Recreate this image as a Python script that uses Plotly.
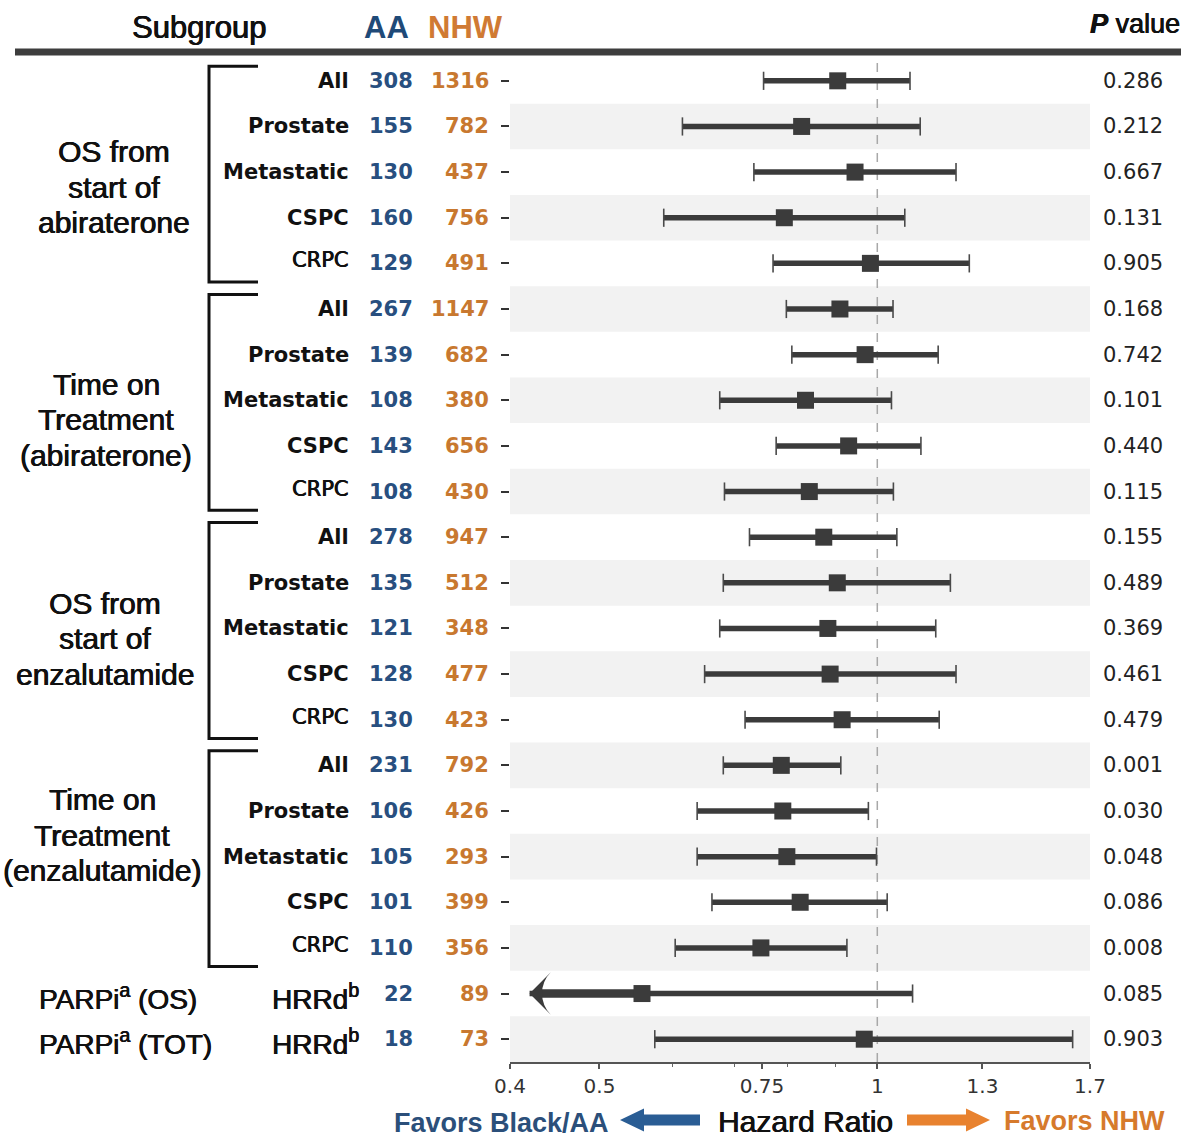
import plotly.graph_objects as go

# ---------------- data ----------------
group_labels = [["OS from", "start of", "abiraterone"],
                ["Time on", "Treatment", "(abiraterone)"],
                ["OS from", "start of", "enzalutamide"],
                ["Time on", "Treatment", "(enzalutamide)"]]
subgroups = ["All", "Prostate", "Metastatic", "CSPC", "CRPC"]
row_labels = subgroups * 4 + ["HRRd<sup>b</sup>", "HRRd<sup>b</sup>"]
parp_labels = ["PARPi<sup>a</sup> (OS)", "PARPi<sup>a</sup> (TOT)"]

n_aa = [308, 155, 130, 160, 129, 267, 139, 108, 143, 108, 278, 135, 121, 128, 130,
        231, 106, 105, 101, 110, 22, 18]
n_nhw = [1316, 782, 437, 756, 491, 1147, 682, 380, 656, 430, 947, 512, 348, 477, 423,
         792, 426, 293, 399, 356, 89, 73]
hr = [0.906, 0.828, 0.946, 0.793, 0.983, 0.911, 0.970, 0.836, 0.931, 0.844, 0.875,
      0.905, 0.884, 0.889, 0.916, 0.787, 0.790, 0.798, 0.825, 0.748, 0.556, 0.968]
ci_low = [0.753, 0.615, 0.735, 0.587, 0.771, 0.797, 0.808, 0.675, 0.777, 0.683, 0.727,
          0.681, 0.675, 0.650, 0.719, 0.681, 0.638, 0.638, 0.662, 0.604, 0.28, 0.574]
ci_high = [1.085, 1.113, 1.217, 1.071, 1.258, 1.040, 1.164, 1.036, 1.115, 1.041, 1.050,
           1.200, 1.157, 1.217, 1.167, 0.913, 0.978, 0.998, 1.025, 0.927, 1.092, 1.628]
p_values = ["0.286", "0.212", "0.667", "0.131", "0.905", "0.168", "0.742", "0.101",
            "0.440", "0.115", "0.155", "0.489", "0.369", "0.461", "0.479", "0.001",
            "0.030", "0.048", "0.086", "0.008", "0.085", "0.903"]

x_ticks = [0.4, 0.5, 0.75, 1, 1.3, 1.7]
x_tick_labels = ["0.4", "0.5", "0.75", "1", "1.3", "1.7"]
x_minor_ticks = [0.6, 0.7, 0.8, 0.9]
x_min, x_max = 0.4, 1.7
arrow_x = 0.42   # where an off-scale lower bound is drawn as an arrow

# ---------------- geometry helpers ----------------
W, H = 1200, 1148
L, R, T, B = 510, 110, 58, 86
PW, PH = W - L - R, H - T - B
ROW_PX = PH / 22.0


def fx(px):
    return (px - L) / PW


def fy(py):
    return (H - B - py) / PH


n = len(hr)
rows = list(range(n))

BLUE = "#284f7f"
ORANGE = "#c8782f"
DARK = "#3b3b3b"
TXT_FONT = "DejaVu Sans"
SANS = "Liberation Sans, Arial, sans-serif"


def heavy(color):
    return f"0.45px 0 0 {color}, -0.35px 0 0 {color}"


# ---------------- traces ----------------
line_x, line_y = [], []
cap_x, cap_y = [], []
arr_x, arr_y = [], []
shaft_x, shaft_y = [], []
for i in rows:
    lo_d = max(ci_low[i], arrow_x)
    line_x += [lo_d, ci_high[i], None]
    line_y += [i, i, None]
    if ci_low[i] >= x_min:
        cap_x.append(ci_low[i]); cap_y.append(i)
    else:
        arr_x.append(arrow_x); arr_y.append(i)
        shaft_x += [arrow_x * 1.02, hr[i], None]
        shaft_y += [i, i, None]
    cap_x.append(ci_high[i]); cap_y.append(i)

fig = go.Figure()
fig.add_trace(go.Scatter(x=line_x, y=line_y, mode="lines",
                         line=dict(color=DARK, width=5.5), hoverinfo="skip",
                         showlegend=False))
fig.add_trace(go.Scatter(x=shaft_x, y=shaft_y, mode="lines",
                         line=dict(color=DARK, width=8.5), hoverinfo="skip",
                         showlegend=False))
fig.add_trace(go.Scatter(x=cap_x, y=cap_y, mode="markers",
                         marker=dict(symbol="line-ns", size=13,
                                     line=dict(width=1.6, color="#4a4a4a")),
                         hoverinfo="skip", showlegend=False))
fig.add_trace(go.Scatter(x=arr_x, y=arr_y, mode="markers",
                         marker=dict(symbol="arrow-wide", angle=-90, size=30,
                                     color=DARK, line=dict(width=0)),
                         hoverinfo="skip", showlegend=False))
fig.add_trace(go.Scatter(x=hr, y=rows, mode="markers",
                         marker=dict(symbol="square", size=17, color=DARK,
                                     line=dict(width=0)),
                         showlegend=False))

# ---------------- shapes ----------------
shapes = []
for i in rows:
    if i % 2 == 1:
        shapes.append(dict(type="rect", xref="paper", yref="y", x0=0, x1=1,
                           y0=i - 0.5, y1=i + 0.5, fillcolor="#f2f2f2",
                           line=dict(width=0), layer="below"))
shapes.append(dict(type="line", xref="x", yref="paper", x0=1, x1=1, y0=0, y1=1,
                   line=dict(color="#a8a8a8", width=1.5, dash="dash"), layer="below"))
# header rule
shapes.append(dict(type="line", xref="paper", yref="paper", x0=fx(15), x1=fx(1181),
                   y0=fy(52), y1=fy(52), line=dict(color="#3d3d3d", width=7)))
# group brackets
for g in range(4):
    s, e = 5 * g, 5 * g + 4
    top, bot = s - 0.32, e + 0.41
    xl, xr = fx(209), fx(258)
    shapes.append(dict(type="path", xref="paper", yref="y",
                       path=f"M {xr},{top} L {xl},{top} L {xl},{bot} L {xr},{bot}",
                       line=dict(color="#111111", width=3)))


def arrow_path(tip, base, tail, yc, head_h=11.5, shaft_h=5.5):
    pts = [(tip, yc), (base, yc - head_h), (base, yc - shaft_h), (tail, yc - shaft_h),
           (tail, yc + shaft_h), (base, yc + shaft_h), (base, yc + head_h)]
    return "M " + " L ".join(f"{fx(a)},{fy(b)}" for a, b in pts) + " Z"


shapes.append(dict(type="path", xref="paper", yref="paper",
                   path=arrow_path(620, 644, 700, 1120), fillcolor="#2a5d94",
                   line=dict(width=0)))
shapes.append(dict(type="path", xref="paper", yref="paper",
                   path=arrow_path(990, 966, 907, 1120), fillcolor="#e8822f",
                   line=dict(width=0)))

# ---------------- annotations ----------------
ann = []


def add(text, x, y, xanchor="center", yref="paper", size=21, color="#111111",
        family=TXT_FONT, yshift=0, shadow=None):
    font = dict(family=family, size=size, color=color)
    if shadow:
        font["shadow"] = shadow
    ann.append(dict(text=text, x=x, y=y, xref="paper", yref=yref, xanchor=xanchor,
                    yanchor="middle", showarrow=False, yshift=yshift, align="center",
                    font=font))


for i in rows:
    if i < 20:
        lab = row_labels[i]
        if lab == "CRPC":
            add(lab, fx(351), i, "right", "y", 21, "#111111", yshift=3,
                shadow=heavy("#111111"))
        else:
            add(f"<b>{lab}</b>", fx(351), i, "right", "y", 21, "#111111")
    else:
        add(row_labels[i], fx(361), i, "right", "y", 28, "#111111", SANS, yshift=-3,
            shadow=heavy("#111111"))
        add(parp_labels[i - 20], fx(37), i, "left", "y", 28, "#111111", SANS,
            yshift=-3, shadow=heavy("#111111"))
    add(f"<b>{n_aa[i]}</b>", fx(415), i, "right", "y", 21, BLUE)
    add(f"<b>{n_nhw[i]}</b>", fx(491), i, "right", "y", 21, ORANGE)
    add(p_values[i], fx(1101), i, "left", "y", 21, "#222222")

group_pos = [(114, 2.33), (106, 7.43), (105, 12.23), (102, 16.53)]
line_step = 35.5 / ROW_PX
for g, (gx, gy) in enumerate(group_pos):
    for k, txt in enumerate(group_labels[g]):
        add(txt, fx(gx), gy + (k - 1) * line_step, "center", "y", 30, "#111111", SANS,
            shadow=heavy("#111111"))

# header
add("Subgroup", fx(199), fy(27), "center", size=31, family=SANS,
    shadow=heavy("#111111"))
add("<b>AA</b>", fx(386), fy(27), "center", size=31, color="#1f4a78", family=SANS)
add("<b>NHW</b>", fx(465), fy(27), "center", size=31, color="#d07a33", family=SANS)
add("<b><i>P</i></b> value", fx(1182), fy(24), "right", size=27, family=SANS,
    shadow=heavy("#111111"))

# bottom
add("<b>Favors Black/AA</b>", fx(501), fy(1123), "center", size=27, color="#2b4f7a",
    family=SANS)
add("Hazard Ratio", fx(805), fy(1121), "center", size=30, color="#111111", family=SANS,
    shadow=heavy("#111111"))
add("<b>Favors NHW</b>", fx(1084), fy(1121), "center", size=27, color="#d67a2c",
    family=SANS)

fig.update_layout(
    width=W, height=H, autosize=False,
    margin=dict(l=L, r=R, t=T, b=B, pad=0),
    plot_bgcolor="white", paper_bgcolor="white",
    shapes=shapes, annotations=ann, showlegend=False,
    xaxis=dict(type="log", range=[-0.39794, 0.230449],
               tickmode="array", tickvals=x_ticks, ticktext=x_tick_labels,
               ticks="outside", ticklen=5, tickwidth=1.5, tickcolor="#555555",
               showline=True, linecolor="#555555", linewidth=1.5,
               showgrid=False, zeroline=False,
               tickfont=dict(family=TXT_FONT, size=20, color="#333333"),
               minor=dict(tickmode="array", tickvals=x_minor_ticks, ticks="outside",
                          ticklen=3, tickwidth=1.2, tickcolor="#666666",
                          showgrid=False)),
    yaxis=dict(range=[n - 0.5, -0.5], tickmode="array", tickvals=rows,
               ticks="outside", ticklen=8, tickwidth=1.5, tickcolor="#333333",
               showticklabels=False, showgrid=False, zeroline=False, showline=False),
)

fig.write_html("out.html")
